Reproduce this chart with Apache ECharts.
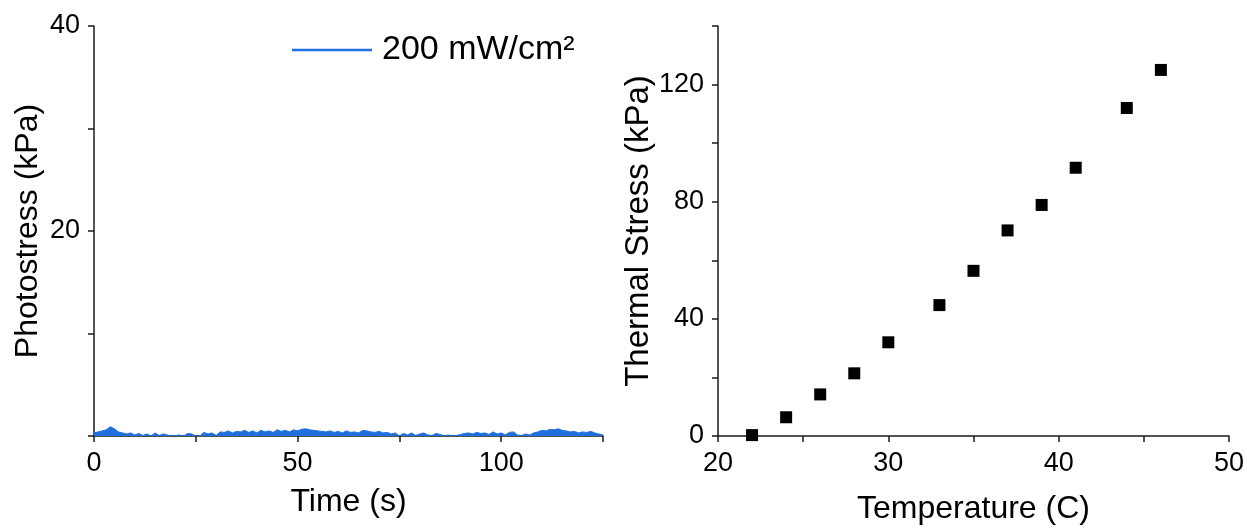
<!DOCTYPE html>
<html>
<head>
<meta charset="utf-8">
<script src="https://cdn.jsdelivr.net/npm/echarts@6/dist/echarts.min.js"></script>
<style>
html, body { margin: 0; padding: 0; background: #fff; }
#chart { width: 1247px; height: 529px; }
</style>
</head>
<body>
<div id="chart"></div>
<script>
(function() {
    'use strict';

    // left panel: photostress trace, one reading per second
    var timeSec = [];
    for (var i = 0; i <= 125; i++) timeSec.push(i);
    var photoStress = [
        0.3, 0.4, 0.5, 0.6, 0.9, 0.7, 0.4, 0.3, 0.2, 0.3,
        0.1, 0.25, 0.05, 0.2, 0.0, 0.3, 0.05, 0.2, 0.1, 0.0,
        0.05, 0.1, 0.0, 0.25, 0.2, 0.0, 0.0, 0.35, 0.2, 0.3,
        0.05, 0.4, 0.35, 0.5, 0.3, 0.45, 0.4, 0.55, 0.35, 0.5,
        0.3, 0.55, 0.4, 0.5, 0.35, 0.6, 0.45, 0.55, 0.4, 0.6,
        0.5, 0.65, 0.7, 0.6, 0.55, 0.5, 0.45, 0.4, 0.5, 0.35,
        0.45, 0.3, 0.5, 0.35, 0.4, 0.3, 0.55, 0.5, 0.4, 0.35,
        0.45, 0.3, 0.35, 0.2, 0.3, 0.0, 0.25, 0.1, 0.3, 0.05,
        0.2, 0.3, 0.1, 0.05, 0.25, 0.15, 0.0, 0.1, 0.0, 0.05,
        0.15, 0.25, 0.3, 0.2, 0.35, 0.25, 0.3, 0.15, 0.4, 0.2,
        0.3, 0.1, 0.35, 0.4, 0.1, 0.05, 0.2, 0.1, 0.3, 0.4,
        0.55, 0.5, 0.65, 0.6, 0.7, 0.55, 0.5, 0.4, 0.45, 0.3,
        0.4, 0.35, 0.45, 0.3, 0.2, 0.1
    ];
    var legendName = '200 mW/cm\u00b2';

    // right panel: thermal stress vs temperature
    var temperature = [22, 24, 26, 28, 30, 33, 35, 37, 39, 41, 44, 46];
    var thermalStress = [0.3, 6.4, 14.2, 21.4, 32.0, 44.7, 56.4, 70.2, 78.9, 91.6, 112, 125];

    var photoData = timeSec.map(function(t, k) { return [t, photoStress[k]]; });
    var thermalData = temperature.map(function(t, k) { return [t, thermalStress[k]]; });

    var font = 'Liberation Sans, Arial, sans-serif';
    var axisColor = '#1a1a1a';

    function axisBase(extra) {
        var base = {
            type: 'value',
            nameLocation: 'middle',
            nameTextStyle: { fontFamily: font, fontSize: 32, color: '#000' },
            axisLine: { show: true, onZero: false, lineStyle: { color: axisColor, width: 1.5 } },
            axisTick: { show: true, inside: false, length: 6, lineStyle: { color: axisColor, width: 1.5 } },
            splitLine: { show: false }
        };
        for (var key in extra) base[key] = extra[key];
        return base;
    }

    function labels(step, skip, margin) {
        return {
            fontFamily: font, fontSize: 27, color: '#000', margin: margin,
            formatter: function(v) {
                if (v % step !== 0) return '';
                if (skip && skip.indexOf(v) >= 0) return '';
                return String(v);
            }
        };
    }

    var option = {
        animation: false,
        backgroundColor: '#fff',
        legend: {
            data: [legendName],
            left: 292,
            top: 33,
            padding: 0,
            icon: 'rect',
            itemWidth: 80,
            itemHeight: 2.5,
            textStyle: { fontFamily: font, fontSize: 34, color: '#000', padding: [0, 0, 0, 5] }
        },
        grid: [
            { left: 94, top: 26, width: 509, height: 410, outerBoundsMode: 'none' },
            { left: 718, top: 26, width: 511, height: 410, outerBoundsMode: 'none' }
        ],
        xAxis: [
            axisBase({
                gridIndex: 0, min: 0, max: 125, interval: 25,
                name: 'Time (s)', nameGap: 50,
                axisLabel: labels(50, null, 14)
            }),
            axisBase({
                gridIndex: 1, min: 20, max: 50, interval: 5,
                name: 'Temperature (C)', nameGap: 57,
                axisLabel: labels(10, null, 14)
            })
        ],
        yAxis: [
            axisBase({
                gridIndex: 0, min: 0, max: 40, interval: 10,
                name: 'Photostress (kPa)', nameGap: 50,
                axisLabel: labels(20, [0], 14)
            }),
            axisBase({
                gridIndex: 1, min: 0, max: 140, interval: 20,
                name: 'Thermal Stress (kPa)', nameGap: 59,
                nameTextStyle: { fontFamily: font, fontSize: 33, color: '#000' },
                axisLabel: labels(40, null, 14)
            })
        ],
        series: [
            {
                name: legendName,
                type: 'line',
                xAxisIndex: 0,
                yAxisIndex: 0,
                data: photoData,
                showSymbol: false,
                color: '#1f6fde',
                lineStyle: { width: 1, color: '#1f6fde' },
                areaStyle: { color: '#1f6fde', opacity: 1 }
            },
            {
                name: 'thermal',
                type: 'scatter',
                xAxisIndex: 1,
                yAxisIndex: 1,
                data: thermalData,
                symbol: 'rect',
                symbolSize: 12,
                itemStyle: { color: '#000', opacity: 1 }
            }
        ]
    };

    var myChart = echarts.init(document.getElementById('chart'));
    myChart.setOption(option);
})();
</script>
</body>
</html>
